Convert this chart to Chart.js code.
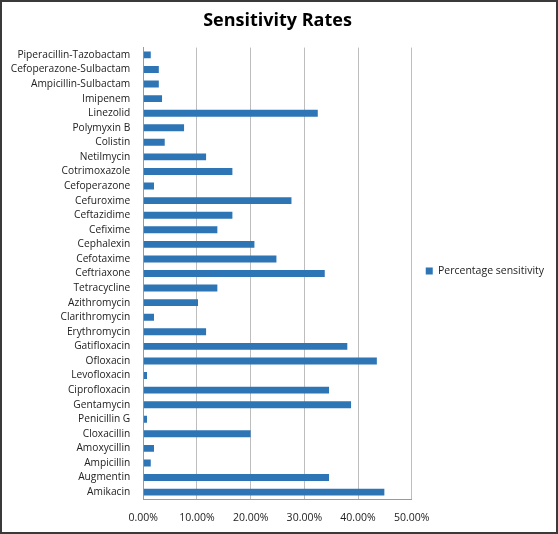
<!DOCTYPE html>
<html>
<head>
    <title>Sensitivity Rates</title>
    <script src="https://cdn.jsdelivr.net/npm/chart.js"></script>
    <style>
        body { margin: 0; background: #fff; }
        #wrap { width: 558px; height: 534px; box-sizing: border-box; border: 2px solid #3a3a3a; }
        canvas { display: block; }
    </style>
</head>
<body>
    <div id="wrap"><canvas id="sensChart" width="554" height="530"></canvas></div>
    <script>
        // categories top to bottom as drawn
        const drugs = [
            'Piperacillin-Tazobactam', 'Cefoperazone-Sulbactam', 'Ampicillin-Sulbactam', 'Imipenem',
            'Linezolid', 'Polymyxin B', 'Colistin', 'Netilmycin', 'Cotrimoxazole', 'Cefoperazone',
            'Cefuroxime', 'Ceftazidime', 'Cefixime', 'Cephalexin', 'Cefotaxime', 'Ceftriaxone',
            'Tetracycline', 'Azithromycin', 'Clarithromycin', 'Erythromycin', 'Gatifloxacin',
            'Ofloxacin', 'Levofloxacin', 'Ciprofloxacin', 'Gentamycin', 'Penicillin G',
            'Cloxacillin', 'Amoxycillin', 'Ampicillin', 'Augmentin', 'Amikacin'
        ];
        const sensitivity = [
            1.4, 2.9, 2.9, 3.5,
            32.5, 7.6, 4.0, 11.7, 16.6, 2.0,
            27.6, 16.6, 13.8, 20.7, 24.8, 33.8,
            13.8, 10.2, 2.0, 11.7, 38.0,
            43.5, 0.7, 34.6, 38.7, 0.7,
            20.0, 2.0, 1.4, 34.6, 44.9
        ];
        const xTicks = [0, 10, 20, 30, 40, 50];

        const ctx = document.getElementById('sensChart').getContext('2d');
        new Chart(ctx, {
            type: 'bar',
            data: {
                labels: drugs,
                datasets: [{
                    label: 'Percentage sensitivity',
                    data: sensitivity,
                    backgroundColor: '#2e75b6',
                    borderWidth: 0,
                    barPercentage: 0.95,
                    categoryPercentage: 0.5
                }]
            },
            options: {
                indexAxis: 'y',
                responsive: false,
                animation: false,
                layout: { padding: { left: 7, right: 10, top: 4, bottom: -4 } },
                plugins: {
                    title: {
                        display: true,
                        text: 'Sensitivity Rates',
                        color: '#000',
                        font: { family: 'Open Sans', size: 18, weight: 'bold' },
                        padding: { top: 4, bottom: 16 }
                    },
                    legend: {
                        position: 'right',
                        labels: {
                            color: '#222',
                            font: { family: 'Open Sans', size: 10.5 },
                            boxWidth: 7,
                            boxHeight: 7,
                            padding: 14
                        }
                    },
                    tooltip: { enabled: false }
                },
                scales: {
                    x: {
                        min: 0,
                        max: 50,
                        afterBuildTicks: axis => { axis.ticks = xTicks.map(v => ({ value: v })); },
                        ticks: {
                            color: '#222',
                            padding: 12,
                            font: { family: 'Open Sans', size: 10.5 },
                            callback: v => v.toFixed(2) + '%'
                        },
                        grid: { color: '#bdbdbd', drawTicks: false },
                        border: { color: '#9a9a9a' }
                    },
                    y: {
                        ticks: {
                            color: '#222',
                            padding: 5,
                            autoSkip: false,
                            font: { family: 'Open Sans', size: 10.2 }
                        },
                        grid: { display: false },
                        border: { color: '#9a9a9a' }
                    }
                }
            }
        });
    </script>
</body>
</html>
